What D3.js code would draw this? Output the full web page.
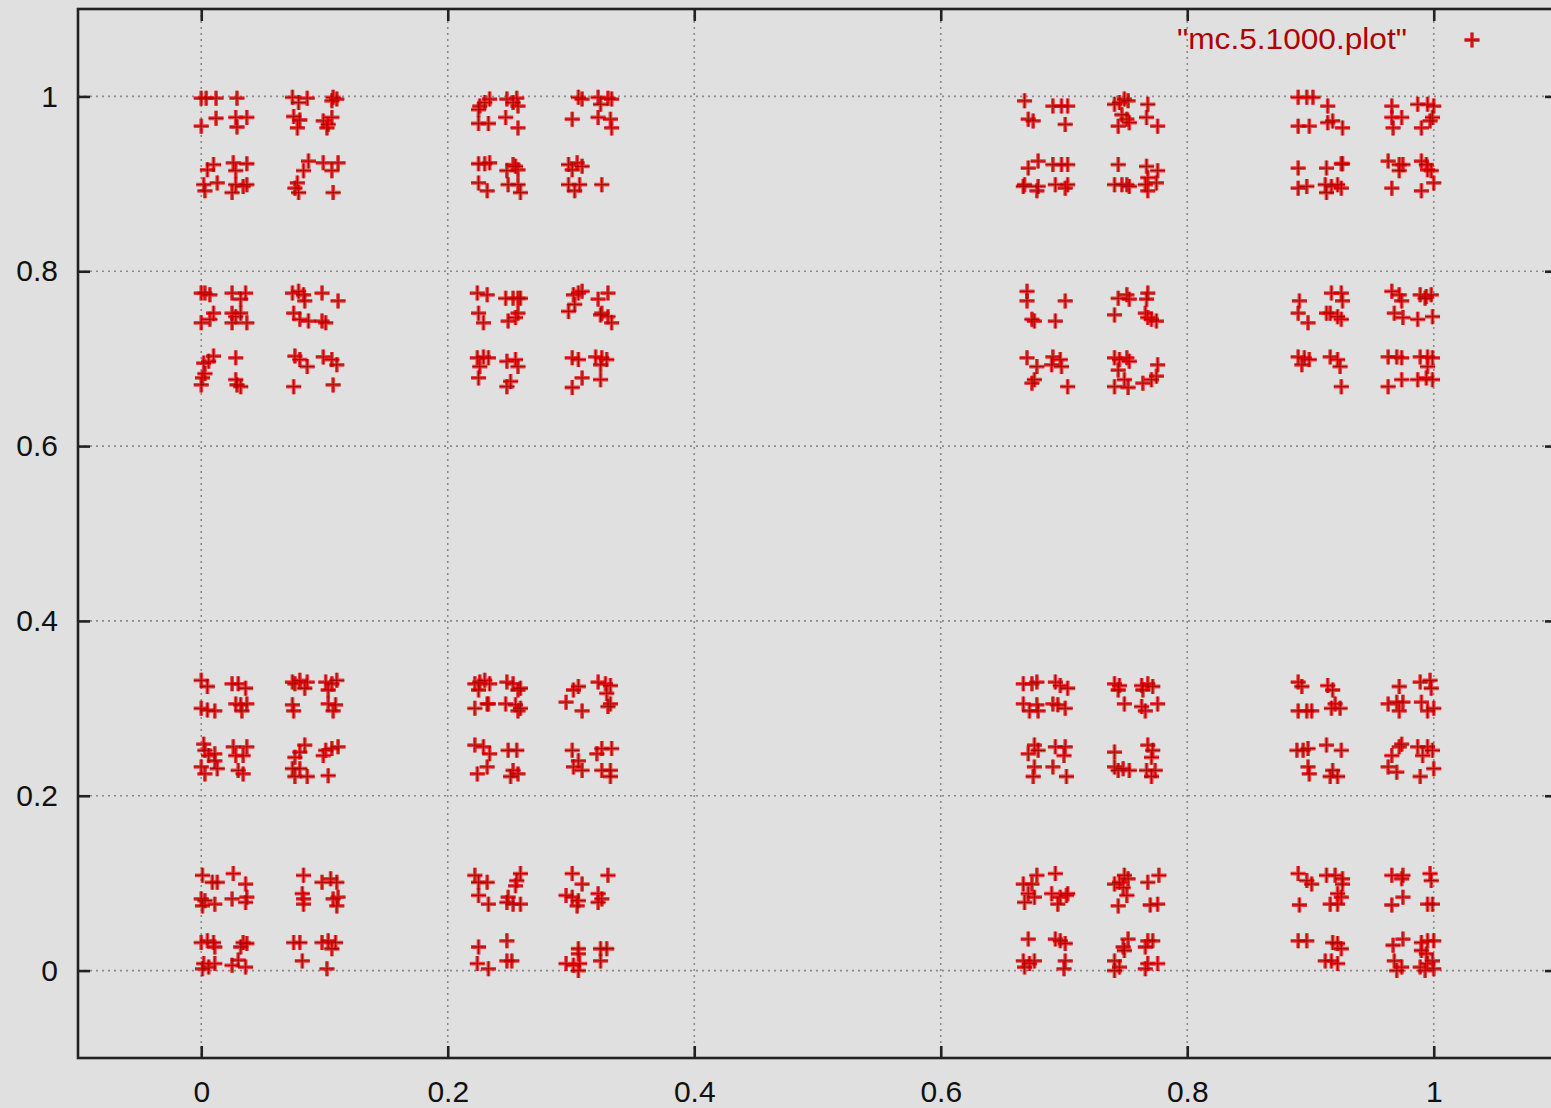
<!DOCTYPE html>
<html><head><meta charset="utf-8">
<script src="https://cdn.jsdelivr.net/npm/d3@7"></script>
<style>
body{margin:0;background:#e0e0e0;}
svg{display:block;}
text{font-family:"Liberation Sans",Arial,Helvetica,sans-serif;}
</style>
</head><body>
<svg id="chart" width="1551" height="1108"></svg>
<script>
const seriesName = '"mc.5.1000.plot"';
const xTicks = [0, 0.2, 0.4, 0.6, 0.8, 1];
const yTicks = [0, 0.2, 0.4, 0.6, 0.8, 1];
const xTickLabels = ["0", "0.2", "0.4", "0.6", "0.8", "1"];
const yTickLabels = ["0", "0.2", "0.4", "0.6", "0.8", "1"];
const xDomain = [-0.1, 1.1];
const yDomain = [-0.1, 1.1];

const pointsTopLeft = [
[0.000,0.998],[0.004,0.998],[0.012,0.998],[0.029,0.998],[0.000,0.966],[0.012,0.975],[0.028,0.976],[0.037,0.976],[0.029,0.965],
[0.074,0.999],[0.079,0.993],[0.086,0.998],[0.075,0.977],[0.078,0.964],[0.080,0.973],[0.099,0.972],[0.103,0.968],[0.106,0.976],[0.102,0.964],[0.107,0.999],[0.110,0.997],[0.106,0.995],
[0.226,0.989],[0.230,0.993],[0.234,0.997],[0.225,0.985],[0.225,0.969],[0.233,0.969],[0.248,0.997],[0.256,0.998],[0.257,0.989],[0.247,0.976],[0.257,0.964],[0.253,0.993],
[0.306,0.999],[0.309,0.997],[0.322,0.999],[0.330,0.998],[0.333,0.997],[0.301,0.974],[0.322,0.976],[0.332,0.974],[0.333,0.964],[0.324,0.991],
[0.010,0.922],[0.026,0.924],[0.037,0.923],[0.005,0.916],[0.028,0.915],[0.002,0.899],[0.013,0.901],[0.028,0.899],[0.034,0.897],[0.003,0.892],[0.025,0.890],[0.037,0.899],
[0.087,0.926],[0.099,0.924],[0.111,0.924],[0.083,0.915],[0.106,0.915],[0.078,0.901],[0.079,0.890],[0.107,0.890],[0.076,0.895],
[0.225,0.923],[0.230,0.923],[0.234,0.924],[0.253,0.922],[0.257,0.916],[0.225,0.901],[0.232,0.892],[0.249,0.899],[0.257,0.899],[0.259,0.890],[0.255,0.920],[0.248,0.915],
[0.298,0.922],[0.305,0.924],[0.301,0.916],[0.309,0.920],[0.298,0.899],[0.303,0.892],[0.307,0.899],[0.325,0.899],
[0.000,0.775],[0.003,0.775],[0.007,0.773],[0.025,0.775],[0.036,0.775],[0.032,0.768],[0.000,0.741],[0.007,0.745],[0.010,0.752],[0.025,0.752],[0.028,0.748],[0.032,0.752],[0.037,0.741],[0.025,0.741],
[0.074,0.775],[0.079,0.777],[0.083,0.773],[0.084,0.766],[0.098,0.775],[0.111,0.766],[0.075,0.752],[0.080,0.745],[0.087,0.743],[0.098,0.743],[0.101,0.741],
[0.224,0.775],[0.232,0.773],[0.225,0.752],[0.229,0.741],[0.247,0.769],[0.253,0.769],[0.257,0.769],[0.259,0.769],[0.255,0.747],[0.249,0.743],[0.257,0.752],
[0.298,0.754],[0.302,0.773],[0.306,0.775],[0.309,0.777],[0.303,0.762],[0.322,0.768],[0.330,0.775],[0.325,0.752],[0.330,0.748],[0.333,0.741],[0.324,0.750],
[0.010,0.703],[0.006,0.697],[0.002,0.695],[0.028,0.701],[0.001,0.678],[0.000,0.670],[0.003,0.683],[0.028,0.676],[0.032,0.668],[0.029,0.670],
[0.076,0.703],[0.080,0.699],[0.086,0.691],[0.099,0.702],[0.106,0.699],[0.110,0.693],[0.075,0.668],[0.107,0.670],
[0.224,0.701],[0.229,0.702],[0.233,0.701],[0.226,0.691],[0.225,0.678],[0.248,0.697],[0.255,0.699],[0.257,0.691],[0.248,0.668],[0.251,0.674],
[0.301,0.701],[0.306,0.699],[0.320,0.702],[0.325,0.701],[0.324,0.693],[0.309,0.678],[0.301,0.667],[0.324,0.676],[0.329,0.699]
];

const pointsTopRight = [
[0.668,0.995],[0.671,0.974],[0.675,0.972],[0.691,0.989],[0.698,0.989],[0.703,0.989],[0.701,0.968],
[0.741,0.991],[0.745,0.993],[0.749,0.997],[0.752,0.995],[0.751,0.974],[0.744,0.966],[0.753,0.970],[0.768,0.991],[0.767,0.976],[0.776,0.966],[0.747,0.979],
[0.890,0.999],[0.897,0.999],[0.902,0.999],[0.914,0.989],[0.890,0.966],[0.899,0.966],[0.914,0.970],[0.918,0.972],[0.926,0.964],
[0.966,0.989],[0.966,0.976],[0.967,0.964],[0.974,0.976],[0.987,0.991],[0.995,0.991],[1.000,0.989],[0.999,0.976],[0.990,0.964],[0.997,0.972],
[0.671,0.918],[0.679,0.926],[0.691,0.922],[0.698,0.922],[0.703,0.922],[0.668,0.899],[0.667,0.897],[0.678,0.892],[0.693,0.899],[0.703,0.899],[0.701,0.895],[0.679,0.897],
[0.744,0.922],[0.767,0.920],[0.776,0.915],[0.768,0.907],[0.747,0.899],[0.751,0.899],[0.753,0.897],[0.766,0.899],[0.768,0.892],[0.775,0.901],[0.741,0.899],
[0.890,0.918],[0.913,0.918],[0.925,0.923],[0.926,0.923],[0.890,0.895],[0.897,0.897],[0.912,0.899],[0.917,0.897],[0.922,0.899],[0.925,0.895],[0.913,0.890],
[0.963,0.926],[0.972,0.922],[0.975,0.922],[0.990,0.926],[0.994,0.922],[0.972,0.915],[0.998,0.915],[1.000,0.901],[0.966,0.895],[0.990,0.892],[0.995,0.916],
[0.670,0.777],[0.670,0.766],[0.701,0.766],[0.676,0.743],[0.693,0.743],[0.674,0.745],
[0.744,0.769],[0.751,0.773],[0.753,0.768],[0.768,0.775],[0.767,0.768],[0.741,0.750],[0.766,0.752],[0.768,0.747],[0.771,0.745],[0.775,0.743],
[0.891,0.766],[0.890,0.752],[0.898,0.741],[0.917,0.775],[0.925,0.775],[0.926,0.766],[0.913,0.752],[0.916,0.752],[0.925,0.745],[0.922,0.748],
[0.966,0.777],[0.972,0.773],[0.974,0.766],[0.989,0.773],[0.994,0.771],[0.998,0.773],[0.968,0.752],[0.975,0.747],[0.987,0.745],[0.999,0.748],[0.993,0.769],
[0.670,0.701],[0.678,0.691],[0.691,0.702],[0.697,0.699],[0.690,0.693],[0.698,0.691],[0.676,0.676],[0.703,0.668],[0.674,0.672],
[0.741,0.701],[0.745,0.699],[0.751,0.701],[0.753,0.697],[0.744,0.687],[0.749,0.676],[0.752,0.667],[0.741,0.668],[0.764,0.672],[0.771,0.676],[0.775,0.680],[0.776,0.693],
[0.890,0.702],[0.895,0.701],[0.899,0.699],[0.893,0.693],[0.916,0.702],[0.922,0.699],[0.924,0.691],[0.925,0.668],
[0.963,0.702],[0.970,0.702],[0.974,0.701],[0.989,0.702],[0.995,0.702],[0.999,0.701],[0.995,0.691],[0.963,0.668],[0.974,0.676],[0.987,0.676],[0.994,0.678],[0.999,0.676]
];

const pointsBottomLeft = [
[0.000,0.332],[0.005,0.325],[0.025,0.328],[0.030,0.328],[0.036,0.323],[0.000,0.300],[0.005,0.298],[0.011,0.297],[0.028,0.305],[0.032,0.304],[0.037,0.305],[0.033,0.297],
[0.074,0.330],[0.076,0.328],[0.080,0.332],[0.086,0.330],[0.084,0.323],[0.074,0.304],[0.075,0.297],[0.101,0.330],[0.106,0.328],[0.110,0.332],[0.103,0.321],[0.103,0.305],[0.107,0.297],[0.109,0.304],
[0.222,0.328],[0.226,0.330],[0.230,0.332],[0.234,0.328],[0.225,0.321],[0.233,0.305],[0.222,0.300],[0.232,0.305],[0.248,0.330],[0.253,0.328],[0.257,0.321],[0.259,0.323],[0.247,0.305],[0.255,0.304],[0.257,0.297],[0.259,0.300],
[0.306,0.325],[0.302,0.321],[0.322,0.330],[0.328,0.328],[0.332,0.326],[0.329,0.317],[0.296,0.307],[0.309,0.297],[0.332,0.305],[0.330,0.302],
[0.002,0.259],[0.003,0.252],[0.006,0.246],[0.011,0.248],[0.026,0.256],[0.037,0.256],[0.028,0.246],[0.034,0.246],[0.000,0.233],[0.003,0.225],[0.013,0.231],[0.030,0.229],[0.034,0.225],[0.011,0.240],
[0.084,0.258],[0.080,0.250],[0.076,0.244],[0.074,0.231],[0.080,0.231],[0.086,0.222],[0.076,0.222],[0.101,0.252],[0.106,0.254],[0.111,0.256],[0.103,0.223],[0.099,0.246],
[0.222,0.258],[0.229,0.256],[0.234,0.248],[0.224,0.225],[0.232,0.233],[0.249,0.252],[0.256,0.252],[0.253,0.229],[0.257,0.225],[0.251,0.222],
[0.301,0.252],[0.306,0.240],[0.302,0.233],[0.309,0.229],[0.325,0.254],[0.333,0.254],[0.325,0.229],[0.332,0.229],[0.332,0.222],[0.321,0.248],
[0.001,0.109],[0.009,0.101],[0.013,0.101],[0.026,0.111],[0.036,0.099],[0.000,0.082],[0.003,0.080],[0.011,0.076],[0.001,0.074],[0.025,0.082],[0.036,0.078],[0.037,0.084],
[0.083,0.109],[0.082,0.088],[0.083,0.082],[0.083,0.076],[0.098,0.101],[0.105,0.105],[0.110,0.101],[0.111,0.084],[0.110,0.074],[0.107,0.082],
[0.222,0.109],[0.225,0.101],[0.232,0.101],[0.225,0.086],[0.233,0.076],[0.259,0.111],[0.256,0.103],[0.255,0.097],[0.249,0.084],[0.248,0.078],[0.253,0.076],[0.259,0.076],
[0.301,0.111],[0.309,0.099],[0.330,0.109],[0.296,0.086],[0.301,0.084],[0.306,0.080],[0.305,0.074],[0.322,0.088],[0.322,0.078],[0.325,0.082],
[0.000,0.032],[0.005,0.034],[0.011,0.027],[0.010,0.032],[0.034,0.032],[0.037,0.031],[0.032,0.027],[0.002,0.008],[0.006,0.004],[0.011,0.008],[0.025,0.006],[0.036,0.004],[0.030,0.012],[0.001,0.002],
[0.075,0.032],[0.080,0.032],[0.082,0.011],[0.098,0.032],[0.103,0.034],[0.109,0.032],[0.106,0.025],[0.102,0.002],
[0.225,0.027],[0.248,0.034],[0.224,0.008],[0.233,0.002],[0.248,0.011],[0.252,0.011],
[0.306,0.025],[0.306,0.019],[0.324,0.025],[0.329,0.025],[0.296,0.008],[0.302,0.006],[0.306,0.000],[0.324,0.011],[0.307,0.008]
];

const pointsBottomRight = [
[0.667,0.328],[0.674,0.328],[0.678,0.330],[0.693,0.330],[0.697,0.326],[0.703,0.323],[0.667,0.305],[0.678,0.304],[0.679,0.297],[0.691,0.305],[0.695,0.304],[0.701,0.300],[0.672,0.297],
[0.741,0.328],[0.745,0.326],[0.744,0.321],[0.763,0.326],[0.768,0.328],[0.772,0.325],[0.764,0.321],[0.749,0.305],[0.763,0.302],[0.766,0.297],[0.776,0.305],
[0.890,0.330],[0.893,0.325],[0.914,0.326],[0.918,0.321],[0.890,0.297],[0.897,0.297],[0.901,0.297],[0.920,0.305],[0.924,0.300],[0.917,0.300],
[0.972,0.325],[0.963,0.305],[0.970,0.307],[0.975,0.307],[0.989,0.330],[0.997,0.332],[0.998,0.323],[0.990,0.307],[1.000,0.300],[0.995,0.297],[0.972,0.297],
[0.671,0.248],[0.676,0.258],[0.679,0.252],[0.693,0.256],[0.701,0.256],[0.700,0.246],[0.691,0.233],[0.676,0.233],[0.675,0.222],[0.702,0.222],
[0.741,0.250],[0.741,0.233],[0.744,0.229],[0.748,0.231],[0.753,0.229],[0.768,0.258],[0.772,0.252],[0.771,0.244],[0.767,0.229],[0.774,0.229],[0.771,0.222],
[0.889,0.252],[0.894,0.252],[0.898,0.254],[0.913,0.258],[0.925,0.252],[0.898,0.233],[0.899,0.225],[0.916,0.222],[0.922,0.222],[0.918,0.229],
[0.966,0.246],[0.972,0.256],[0.974,0.259],[0.987,0.256],[0.995,0.256],[0.999,0.252],[0.991,0.246],[0.963,0.233],[0.970,0.227],[0.989,0.222],[1.000,0.231],
[0.678,0.109],[0.693,0.111],[0.667,0.099],[0.674,0.099],[0.671,0.088],[0.668,0.078],[0.676,0.084],[0.690,0.088],[0.697,0.084],[0.702,0.086],[0.695,0.076],[0.703,0.088],
[0.741,0.099],[0.745,0.101],[0.749,0.109],[0.752,0.105],[0.751,0.086],[0.744,0.074],[0.768,0.101],[0.777,0.109],[0.770,0.075],[0.776,0.076],[0.748,0.095],
[0.890,0.111],[0.897,0.103],[0.901,0.099],[0.913,0.109],[0.920,0.109],[0.926,0.105],[0.926,0.099],[0.922,0.088],[0.916,0.076],[0.922,0.076],[0.925,0.084],[0.891,0.075],
[0.966,0.109],[0.974,0.105],[0.975,0.109],[0.997,0.111],[0.998,0.103],[0.966,0.075],[0.975,0.084],[0.995,0.076],[0.999,0.076],
[0.671,0.036],[0.667,0.011],[0.672,0.008],[0.676,0.011],[0.693,0.036],[0.701,0.031],[0.697,0.034],[0.701,0.011],[0.700,0.002],[0.668,0.004],
[0.752,0.036],[0.748,0.027],[0.749,0.023],[0.741,0.011],[0.745,0.004],[0.741,0.000],[0.768,0.034],[0.772,0.034],[0.766,0.027],[0.768,0.008],[0.776,0.008],[0.766,0.002],
[0.890,0.034],[0.897,0.034],[0.922,0.031],[0.925,0.025],[0.912,0.011],[0.917,0.011],[0.922,0.008],[0.918,0.032],
[0.967,0.029],[0.975,0.036],[0.990,0.032],[0.995,0.034],[1.000,0.034],[0.990,0.023],[0.994,0.019],[0.968,0.011],[0.974,0.004],[0.989,0.004],[0.995,0.008],[0.999,0.011],[1.000,0.002],[0.993,0.000],[0.970,0.000]
];

const allPoints = [].concat(pointsTopLeft, pointsTopRight, pointsBottomLeft, pointsBottomRight);

const W = 1551, H = 1108;
const plot = {left: 78, right: 1557, top: 9, bottom: 1058};
const svg = d3.select("#chart");
svg.append("rect").attr("width", W).attr("height", H).attr("fill", "#e0e0e0");

const x = d3.scaleLinear().domain(xDomain).range([plot.left, plot.right]);
const y = d3.scaleLinear().domain(yDomain).range([plot.bottom, plot.top]);

// grid
const grid = svg.append("g").attr("stroke", "#8a8a8a").attr("stroke-width", 1.6).attr("stroke-dasharray", "2,4");
grid.selectAll("line.vx").data(xTicks).join("line")
  .attr("x1", d => x(d)).attr("x2", d => x(d)).attr("y1", plot.top).attr("y2", plot.bottom);
grid.selectAll("line.hy").data(yTicks).join("line")
  .attr("class","hy")
  .attr("y1", d => y(d)).attr("y2", d => y(d)).attr("x1", plot.left).attr("x2", plot.right);

// points
const plus = "M-7.5,0H7.5M0,-7.5V7.5";
function drawPlus(sel) {
  sel.append("path").attr("d", plus)
    .attr("stroke", "#f00000").attr("stroke-opacity", 0.72).attr("stroke-width", 3.8).attr("fill", "none");
  sel.append("path").attr("d", plus)
    .attr("stroke", "#9a0000").attr("stroke-opacity", 0.8).attr("stroke-width", 1.3).attr("fill", "none");
}
const pts = svg.append("g");
pts.selectAll("g.pt").data(allPoints).join("g")
  .attr("class","pt")
  .attr("transform", d => `translate(${x(d[0])},${y(d[1])})`)
  .call(drawPlus);

// axes
function styleAxis(g) {
  g.select(".domain").remove();
  g.selectAll(".tick line").attr("stroke", "#222").attr("stroke-width", 2.6);
  g.selectAll(".tick text").attr("fill", "#111").attr("font-size", 30)
    .attr("font-family", '"Liberation Sans", Arial, sans-serif');
}
svg.append("g").attr("transform", `translate(0,${plot.bottom})`)
  .call(d3.axisBottom(x).tickValues(xTicks).tickFormat((d,i) => xTickLabels[i]).tickSizeInner(-12).tickSizeOuter(0).tickPadding(23))
  .call(styleAxis);
svg.append("g").attr("transform", `translate(${plot.left},0)`)
  .call(d3.axisLeft(y).tickValues(yTicks).tickFormat((d,i) => yTickLabels[i]).tickSizeInner(-12).tickSizeOuter(0).tickPadding(20))
  .call(styleAxis);
svg.append("g").attr("transform", `translate(0,${plot.top})`)
  .call(d3.axisTop(x).tickValues(xTicks).tickFormat("").tickSizeInner(-12).tickSizeOuter(0))
  .call(styleAxis);
svg.append("g").attr("transform", `translate(${plot.right},0)`)
  .call(d3.axisRight(y).tickValues(yTicks).tickFormat("").tickSizeInner(-12).tickSizeOuter(0))
  .call(styleAxis);

// frame
svg.append("rect").attr("x", plot.left).attr("y", plot.top)
  .attr("width", plot.right - plot.left).attr("height", plot.bottom - plot.top)
  .attr("fill", "none").attr("stroke", "#222").attr("stroke-width", 2.6);

// legend
const leg = svg.append("g");
leg.append("text").attr("x", 1177).attr("y", 49)
  .attr("font-size", 29).attr("textLength", 230).attr("lengthAdjust", "spacingAndGlyphs")
  .attr("fill", "#b00000").text(seriesName);
leg.append("g").attr("transform", "translate(1472,40)").call(drawPlus);
</script>
</body></html>
